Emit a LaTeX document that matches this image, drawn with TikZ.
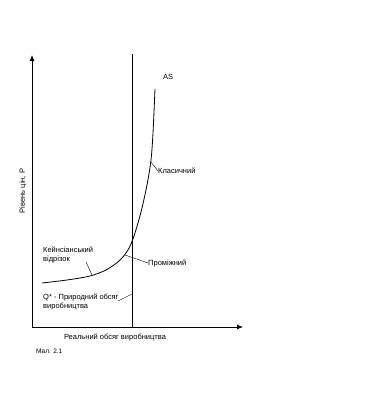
\documentclass[tikz,border=0pt]{standalone}
\usepackage{fontspec}
\setmainfont{Liberation Sans}
\usetikzlibrary{arrows.meta,positioning}

\tikzset{
    lbl/.style={font=\fontsize{7.5}{9}\selectfont, inner sep=0pt, anchor=west, align=left},
    leader/.style={thin},
    axis/.style={thick, -{Latex[length=6pt,width=5pt]}}
}

\begin{document}
\begin{tikzpicture}[x=1pt, y=-1pt]
    \useasboundingbox (0,0) rectangle (366,400);

    \def\ox{32}     % origin x
    \def\oy{327}    % origin y
    \def\qstar{132} % natural output

    % Axes
    \coordinate (origin) at (\ox, \oy);
    \coordinate (ytop) at (\ox, 55);
    \coordinate (xend) at (243, \oy);
    \draw[axis] (origin) -- (ytop);
    \draw[axis] (origin) -- (xend);

    % Vertical line at Q*
    \coordinate (qtop) at (\qstar, 54);
    \coordinate (qbot) at (\qstar, \oy);
    \draw (qbot) -- (qtop);

    % AS curve
    \draw[thick] plot[smooth, tension=0.5] coordinates {(42,283) (67,280) (90,276) (106,270) (119,261) (128,250) (134,236) (141,212) (147,185) (151,160) (153,133) (155,89)};
    \node[lbl] (as) at (163,77) {AS};

    % Labels with leaders
    \coordinate (clpt) at (151,162);
    \node[lbl] (cl) at (158,171) {Класичний};
    \draw[leader] (clpt) -- (cl.west);

    \coordinate (kpt) at (92,275);
    \node[lbl] (keyn) at (43,255) {Кейнсіанський\\відрізок};
    \draw[leader] (86,262) -- (kpt);

    \coordinate (ppt) at (125,255);
    \node[lbl] (prom) at (148,263) {Проміжний};
    \draw[leader] (ppt) -- (prom.west);

    \coordinate (qpt) at (\qstar,294);
    \node[lbl] (qlab) at (43,302) {Q* - Природний обсяг\\виробництва};
    \draw[leader] (118,301) -- (qpt);

    % Axis titles
    \node[lbl, anchor=center] (xlab) at (115,337) {Реальний обсяг виробництва};
    \node[lbl, anchor=center, rotate=90] (ylab) at (23,191) {Рівень цін, Р};
    \node[lbl, font=\fontsize{6.5}{8}\selectfont] (fig) at (36,351) {Мал. 2.1};

\end{tikzpicture}
\end{document}
